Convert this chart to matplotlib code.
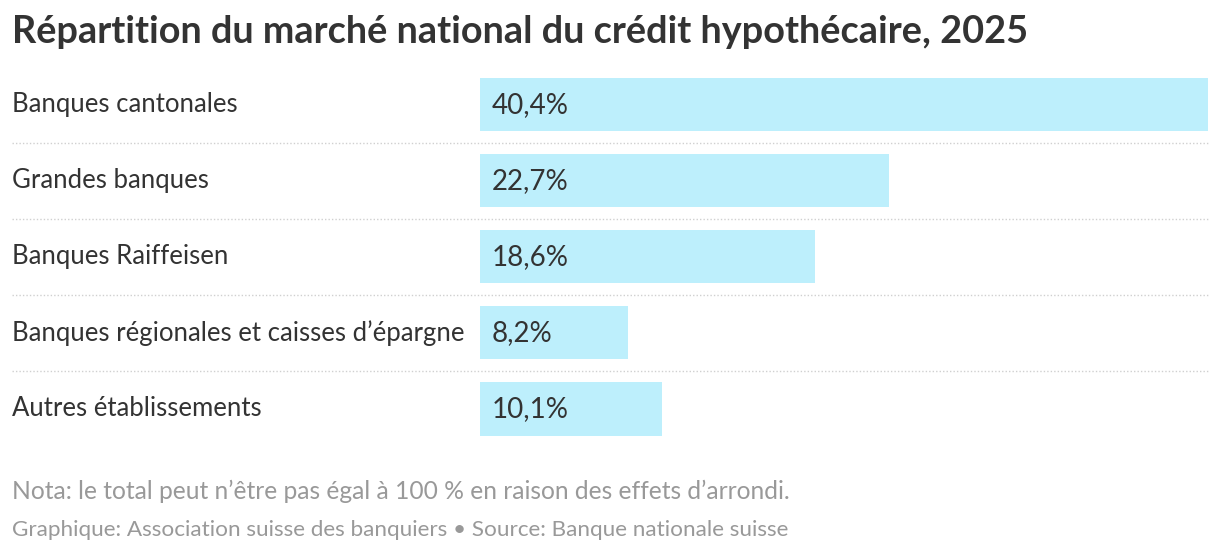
import matplotlib
matplotlib.use("Agg")
import matplotlib.pyplot as plt
import matplotlib.transforms as mtransforms

plt.rcParams['font.family'] = ['Lato', 'DejaVu Sans']

categories = ['Banques cantonales', 'Grandes banques', 'Banques Raiffeisen',
              "Banques régionales et caisses d\u2019épargne", 'Autres établissements']
shares = [40.4, 22.7, 18.6, 8.2, 10.1]
value_labels = ['40,4%', '22,7%', '18,6%', '8,2%', '10,1%']

title = 'Répartition du marché national du crédit hypothécaire, 2025'
note = "Nota: le total peut n\u2019être pas égal à 100\u00a0% en raison des effets d\u2019arrondi."
credit = 'Graphique: Association suisse des banquiers \u2022 Source: Banque nationale suisse'

W, H = 1220, 556
fig = plt.figure(figsize=(W / 100, H / 100), dpi=100)

# axes placed in pixel terms: bars start at x=480, longest bar ends at x=1208
ax = fig.add_axes([480 / W, (H - 447) / H, 728 / W, (447 - 66.5) / H])
ypos = list(range(len(categories)))
ax.barh(ypos, shares, height=0.70, color='#bdeffc', edgecolor='none')
ax.set_xlim(0, max(shares))
ax.set_ylim(len(categories) - 0.5, -0.5)
ax.axis('off')

for y, lab in zip(ypos, value_labels):
    ax.annotate(lab, (0, y), xytext=(12, 0), textcoords='offset pixels',
                va='center', ha='left', fontsize=20, color='#333333')

# category labels and dotted separators across the whole width
trans = mtransforms.blended_transform_factory(fig.transFigure, ax.transData)
for y, cat in zip(ypos, categories):
    fig.text(12 / W, 0, cat, transform=trans, va='center', ha='left',
             fontsize=18.5, color='#333333').set_y(y)
for y in ypos[:-1]:
    ax.plot([12 / W, 1208 / W], [y + 0.5, y + 0.5], transform=trans,
            color='#d0d0d0', linestyle=(0, (1, 1.5)), linewidth=1.0,
            clip_on=False)

fig.text(12 / W, 1 - 32 / H, title, ha='left', va='center', fontsize=27.3,
         fontweight='bold', color='#333333')
fig.text(12 / W, 1 - 491 / H, note, ha='left', va='center', fontsize=17.7,
         color='#999999')
fig.text(12 / W, 1 - 530 / H, credit, ha='left', va='center', fontsize=16.2,
         color='#999999')

fig.savefig('out.png', dpi=100, facecolor='white')
